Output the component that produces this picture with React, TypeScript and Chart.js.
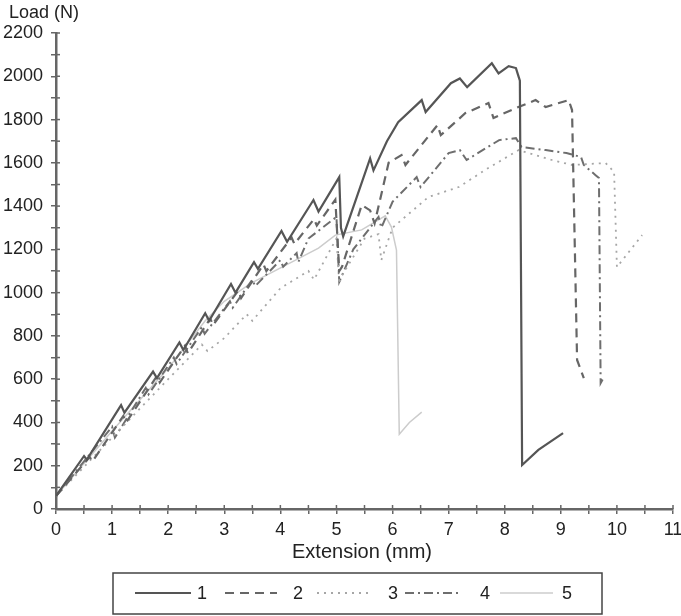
import React, { useEffect, useRef } from "react";
import { Chart, registerables } from "chart.js";

Chart.register(...registerables);

const FONT = '"Liberation Sans", Arial, Helvetica, sans-serif';

// Specimen 1 (solid)
const ext1 = [0, 0.5, 0.55, 1.16, 1.22, 1.73, 1.8, 2.2, 2.27, 2.66, 2.73, 3.12, 3.2, 3.53, 3.6, 4.02, 4.12, 4.59, 4.68, 5.05, 5.08, 5.12, 5.6, 5.66, 5.9, 6.1, 6.52, 6.59, 7.04, 7.2, 7.33, 7.77, 7.89, 8.07, 8.2, 8.25, 8.27, 8.31, 8.6, 9.04];
const load1 = [60, 245, 228, 480, 445, 635, 605, 770, 735, 905, 870, 1040, 1000, 1141, 1110, 1285, 1235, 1428, 1375, 1534, 1300, 1260, 1620, 1565, 1700, 1788, 1890, 1835, 1968, 1990, 1950, 2060, 2013, 2047, 2038, 1996, 1980, 203, 273, 351];

// Specimen 2 (dashed)
const ext2 = [0, 0.6, 0.65, 1.2, 1.25, 1.8, 1.85, 2.3, 2.35, 2.75, 2.8, 3.25, 3.3, 3.7, 3.75, 4.2, 4.25, 4.6, 4.65, 4.98, 5.05, 5.1, 5.45, 5.6, 5.68, 5.93, 6.16, 6.23, 6.8, 6.86, 7.3, 7.71, 7.8, 8.2, 8.55, 8.73, 9.14, 9.2, 9.29, 9.41];
const load2 = [60, 240, 220, 430, 400, 615, 585, 755, 720, 880, 850, 1010, 975, 1130, 1100, 1255, 1225, 1340, 1310, 1430, 1100, 1120, 1405, 1380, 1320, 1600, 1636, 1590, 1774, 1728, 1830, 1876, 1807, 1853, 1890, 1858, 1890, 1844, 689, 605];

// Specimen 3 (dotted)
const ext3 = [0, 1.0, 2.0, 2.6, 2.7, 3.0, 3.4, 3.5, 4.0, 4.5, 4.6, 5.0, 5.05, 5.1, 5.5, 5.75, 5.8, 6.0, 6.64, 7.18, 7.7, 8.25, 8.84, 9.2, 9.8, 9.95, 10.0, 10.45];
const load3 = [60, 330, 600, 760, 730, 790, 900, 870, 1020, 1100, 1060, 1250, 1040, 1080, 1250, 1270, 1150, 1300, 1442, 1488, 1575, 1659, 1613, 1590, 1599, 1557, 1118, 1266];

// Specimen 4 (dash-dot)
const ext4 = [0, 0.5, 1.0, 1.05, 1.6, 1.65, 2.1, 2.15, 2.6, 2.65, 3.1, 3.15, 3.5, 3.55, 4.0, 4.05, 4.29, 4.32, 4.5, 5.0, 5.05, 5.3, 5.75, 5.8, 6.0, 6.43, 6.5, 7.0, 7.2, 7.32, 7.9, 8.2, 8.3, 8.73, 9.1, 9.36, 9.41, 9.62, 9.68, 9.71, 9.77];
const load4 = [60, 220, 380, 330, 560, 530, 700, 670, 840, 810, 960, 930, 1060, 1030, 1150, 1120, 1183, 1141, 1250, 1350, 1050, 1200, 1350, 1300, 1420, 1534, 1488, 1645, 1659, 1613, 1705, 1714, 1673, 1659, 1645, 1627, 1590, 1543, 1530, 582, 610];

// Specimen 5 (light solid)
const ext5 = [0, 1.0, 2.0, 2.66, 3.0, 3.48, 4.27, 4.68, 4.98, 5.45, 5.87, 5.98, 6.07, 6.12, 6.3, 6.52];
const load5 = [60, 360, 650, 870, 960, 1044, 1150, 1206, 1266, 1290, 1355, 1303, 1197, 345, 400, 448];

const seriesLabels = ["1", "2", "3", "4", "5"];
const xTitle = "Extension (mm)";
const yTitle = "Load (N)";

const styles = [
  { color: "#555555", width: 2.2, dash: [] as number[] },
  { color: "#666666", width: 2.2, dash: [9, 6] },
  { color: "#a6a6a6", width: 1.8, dash: [2, 5] },
  { color: "#6e6e6e", width: 2, dash: [9, 4, 2, 4] },
  { color: "#cccccc", width: 1.5, dash: [] as number[] },
];

const pts = (xs: number[], ys: number[]) => xs.map((x, i) => ({ x, y: ys[i] }));

const decor = {
  id: "decor",
  afterDraw(chart: any) {
    const ctx = chart.ctx;
    const { left, bottom } = chart.chartArea;
    const xs = chart.scales.x;
    const ys = chart.scales.y;
    ctx.save();
    ctx.strokeStyle = "#666";
    ctx.lineWidth = 1.5;
    ctx.setLineDash([]);
    xs.ticks.forEach((t: any) => {
      const px = xs.getPixelForValue(t.value);
      ctx.beginPath();
      ctx.moveTo(px, bottom);
      ctx.lineTo(px, bottom - 4);
      ctx.stroke();
    });
    ys.ticks.forEach((t: any) => {
      const py = ys.getPixelForValue(t.value);
      ctx.beginPath();
      ctx.moveTo(left, py);
      ctx.lineTo(left + 4, py);
      ctx.stroke();
    });
    ctx.fillStyle = "#222";
    ctx.font = `18px ${FONT}`;
    ctx.textAlign = "left";
    ctx.textBaseline = "middle";
    ctx.fillText(yTitle, 9, 13);
    ctx.font = `20px ${FONT}`;
    ctx.textAlign = "center";
    ctx.fillText(xTitle, 362, 552);

    // legend
    const bx = 113, by = 573, bw = 489, bh = 41;
    ctx.strokeStyle = "#444";
    ctx.lineWidth = 1.5;
    ctx.strokeRect(bx, by, bw, bh);
    const cy = 593;
    const items = [
      [135, 191, 197],
      [225, 277, 293],
      [317, 369, 388],
      [405, 462, 480],
      [500, 553, 562],
    ];
    ctx.font = `18px ${FONT}`;
    ctx.textAlign = "left";
    items.forEach((it, i) => {
      const s = styles[i];
      ctx.strokeStyle = s.color;
      ctx.lineWidth = s.width;
      ctx.setLineDash(s.dash);
      ctx.beginPath();
      ctx.moveTo(it[0], cy);
      ctx.lineTo(it[1], cy);
      ctx.stroke();
      ctx.setLineDash([]);
      ctx.fillStyle = "#222";
      ctx.fillText(seriesLabels[i], it[2], cy + 1);
    });
    ctx.restore();
  },
};

export default function App() {
  const ref = useRef<HTMLCanvasElement | null>(null);
  useEffect(() => {
    if (!ref.current) return;
    const all = [pts(ext1, load1), pts(ext2, load2), pts(ext3, load3), pts(ext4, load4), pts(ext5, load5)];
    const chart = new Chart(ref.current, {
      type: "scatter",
      data: {
        datasets: all.map((d, i) => ({
          label: seriesLabels[i],
          data: d,
          showLine: true,
          borderColor: styles[i].color,
          backgroundColor: styles[i].color,
          borderWidth: styles[i].width,
          borderDash: styles[i].dash,
          pointRadius: 0,
          tension: 0,
          fill: false,
        })),
      },
      options: {
        responsive: false,
        animation: false,
        devicePixelRatio: 1,
        layout: { padding: { left: 0, top: 33, right: 8, bottom: 0 } },
        plugins: { legend: { display: false }, tooltip: { enabled: false } },
        scales: {
          x: {
            type: "linear",
            min: 0,
            max: 11,
            afterFit: (s: any) => {
              s.height = 107;
              s.paddingRight = 0;
              s.paddingLeft = 0;
            },
            grid: { drawOnChartArea: false, drawTicks: true, tickLength: 5, color: "#666", lineWidth: 1.5 },
            border: { display: true, color: "#666", width: 2.5 },
            ticks: {
              stepSize: 0.5,
              autoSkip: false,
              maxRotation: 0,
              padding: 5,
              color: "#222",
              font: { family: FONT, size: 18 },
              callback: (v: any) => (Number.isInteger(v) ? `${v}` : ""),
            },
          },
          y: {
            type: "linear",
            min: 0,
            max: 2200,
            afterFit: (s: any) => {
              s.width = 56;
            },
            grid: { drawOnChartArea: false, drawTicks: true, tickLength: 5, color: "#666", lineWidth: 1.5 },
            border: { display: true, color: "#666", width: 2.5 },
            ticks: {
              stepSize: 100,
              autoSkip: false,
              padding: 8,
              color: "#222",
              font: { family: FONT, size: 18 },
              callback: (v: any) => (v % 200 === 0 ? `${v}` : ""),
            },
          },
        },
      },
      plugins: [decor],
    });
    return () => chart.destroy();
  }, []);
  return (
    <div style={{ position: "absolute", left: 0, top: 0, width: 681, height: 616, background: "#fff" }}>
      <canvas ref={ref} width={681} height={616} />
    </div>
  );
}
